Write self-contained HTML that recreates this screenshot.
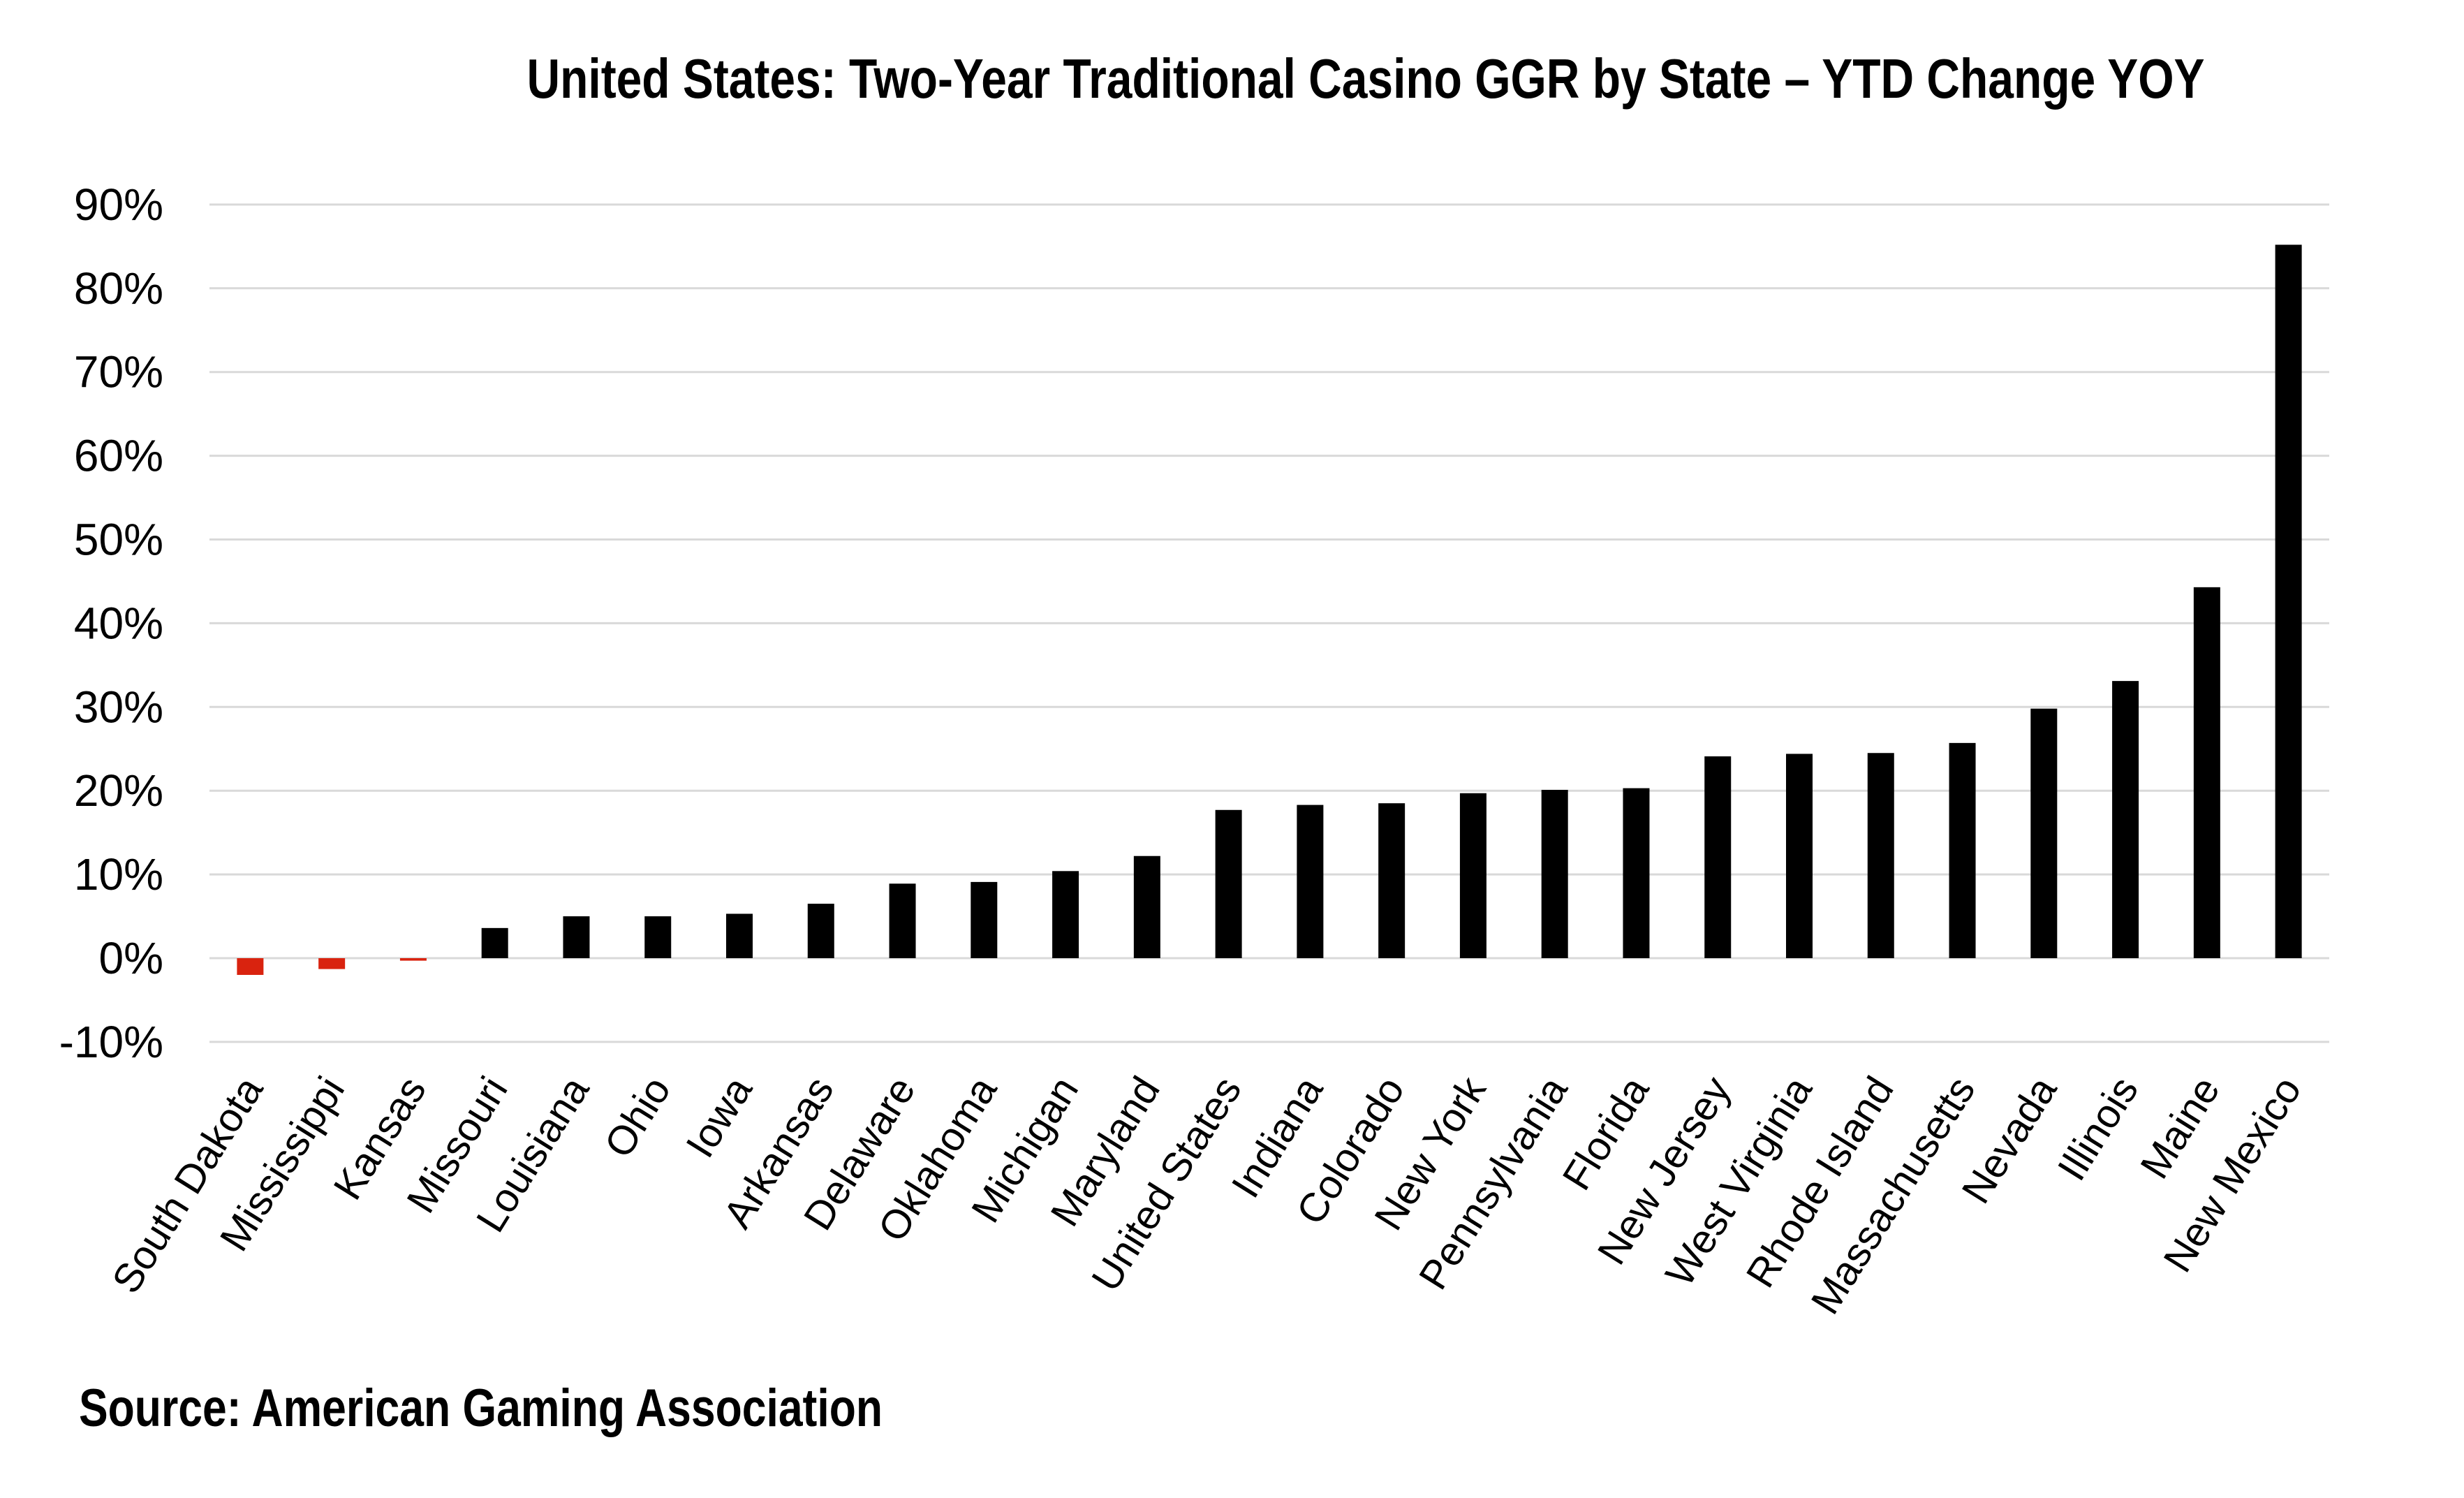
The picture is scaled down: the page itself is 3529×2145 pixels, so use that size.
<!DOCTYPE html>
<html><head><meta charset="utf-8"><style>
html,body{margin:0;padding:0;background:#fff;}
svg{display:block;}
</style></head><body>
<svg id="chart" width="3529" height="2145" viewBox="0 0 3529 2145" xmlns="http://www.w3.org/2000/svg">
<rect width="3529" height="2145" fill="#fff"/>
<text x="1956" y="140" text-anchor="middle" font-family="'Liberation Sans Narrow','Liberation Sans',sans-serif" font-weight="bold" font-size="80" textLength="2403" lengthAdjust="spacingAndGlyphs">United States: Two-Year Traditional Casino GGR by State – YTD Change YOY</text>
<g id="grid"></g>
<g id="yticks"></g>
<g id="bars"></g>
<g id="xlabels"></g>
<text x="113" y="2042" font-family="'Liberation Sans Narrow','Liberation Sans',sans-serif" font-weight="bold" font-size="76" textLength="1151" lengthAdjust="spacingAndGlyphs">Source: American Gaming Association</text>
</svg>
<script>
const categories = ["South Dakota","Mississippi","Kansas","Missouri","Louisiana","Ohio","Iowa","Arkansas","Delaware","Oklahoma","Michigan","Maryland","United States","Indiana","Colorado","New York","Pennsylvania","Florida","New Jersey","West Virginia","Rhode Island","Massachusetts","Nevada","Illinois","Maine","New Mexico"];
const values = [-2.0,-1.3,-0.3,3.6,5.0,5.0,5.3,6.5,8.9,9.1,10.4,12.2,17.7,18.3,18.5,19.7,20.1,20.3,24.1,24.4,24.5,25.7,29.8,33.1,44.3,85.2];
const yTicks = [-10,0,10,20,30,40,50,60,70,80,90];

const NS = "http://www.w3.org/2000/svg";
const plotL = 300, plotR = 3336, y0px = 1372, perUnit = 11.99;
const y = v => y0px - v * perUnit;
const band = (plotR - plotL) / categories.length;
const x = i => plotL + band * (i + 0.5);
const barW = 38;

const grid = document.getElementById('grid');
const yt = document.getElementById('yticks');
yTicks.forEach(t => {
  const l = document.createElementNS(NS, 'line');
  
  
  l.setAttribute('x1', plotL); l.setAttribute('x2', plotR);
  l.setAttribute('y1', y(t)); l.setAttribute('y2', y(t));
  l.setAttribute('stroke', '#d9d9d9'); l.setAttribute('stroke-width', '3');
  grid.appendChild(l);
  const tx = document.createElementNS(NS, 'text');
  
  
  tx.setAttribute('x', 234); tx.setAttribute('y', y(t) + 22);
  tx.setAttribute('text-anchor', 'end');
  tx.setAttribute('font-family', "'Liberation Sans',sans-serif");
  tx.setAttribute('font-size', '64');
  tx.textContent = t + '%';
  yt.appendChild(tx);
});

const bars = document.getElementById('bars');
const xl = document.getElementById('xlabels');
categories.forEach((c, i) => {
  const v = values[i];
  const r = document.createElementNS(NS, 'rect');
  
  
  r.setAttribute('x', x(i) - barW / 2);
  r.setAttribute('y', Math.min(y(v), y(0)));
  r.setAttribute('width', barW);
  r.setAttribute('height', Math.max(Math.abs(y(v) - y(0)), 2));
  r.setAttribute('fill', v < 0 ? '#d9230f' : '#000');
  bars.appendChild(r);
  const t = document.createElementNS(NS, 'text');
  
  
  const lx = x(i) + 20, ly = 1558;
  t.setAttribute('x', lx); t.setAttribute('y', ly);
  t.setAttribute('text-anchor', 'end');
  t.setAttribute('transform', `rotate(-58 ${lx} ${ly})`);
  t.setAttribute('font-family', "'Liberation Sans',sans-serif");
  t.setAttribute('font-size', '58');
  t.textContent = c;
  xl.appendChild(t);
});
</script>
</body></html>
